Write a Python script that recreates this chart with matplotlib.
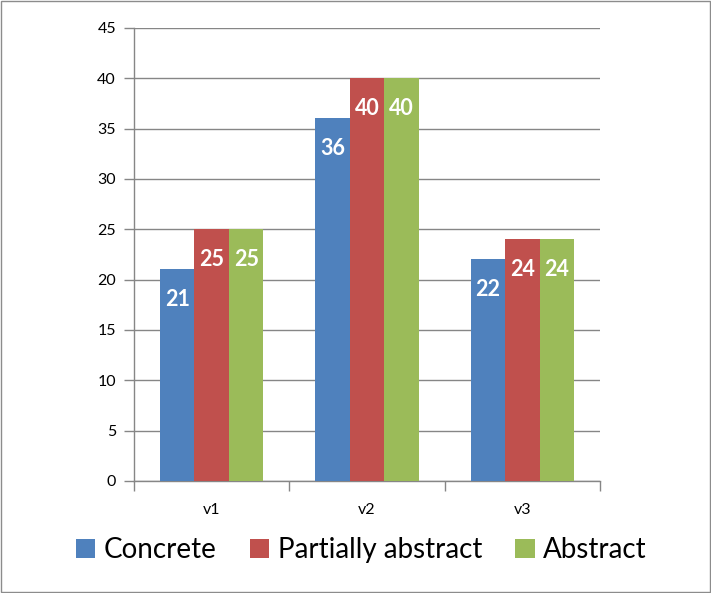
import matplotlib
matplotlib.use("Agg")
import matplotlib.pyplot as plt
import numpy as np

categories = ['v1', 'v2', 'v3']
series_names = ['Concrete', 'Partially abstract', 'Abstract']
concrete = [21, 36, 22]
partially_abstract = [25, 40, 24]
abstract = [25, 40, 24]
colors = ['#4F81BD', '#C0504D', '#9BBB59']

plt.rcParams['font.family'] = ['Lato', 'DejaVu Sans']

fig = plt.figure(figsize=(7.11, 5.93), dpi=100)
ax = fig.add_axes([0.1885, 0.189, 0.6555, 0.764])

grid_c = '#868686'
x = np.arange(len(categories))
w = 0.222
all_series = [concrete, partially_abstract, abstract]
for i, (vals, name, c) in enumerate(zip(all_series, series_names, colors)):
    pos = x + (i - 1) * w
    bars = ax.bar(pos, vals, width=w, color=c, label=name, zorder=3)
    for b, v in zip(bars, vals):
        ax.annotate(str(v), (b.get_x() + b.get_width() / 2, v),
                    xytext=(0, -30), textcoords='offset pixels',
                    ha='center', va='center', color='white',
                    fontsize=15.5, fontweight='bold', zorder=4)

ax.set_xlim(-0.5, 2.5)
ax.set_ylim(0, 45)
ax.set_yticks(range(0, 46, 5))
ax.yaxis.grid(True, color=grid_c, linewidth=1, zorder=0)
ax.set_axisbelow(True)
for s in ['top', 'right']:
    ax.spines[s].set_visible(False)
for s in ['left', 'bottom']:
    ax.spines[s].set_color(grid_c)
    ax.spines[s].set_linewidth(1)

# category labels centered, tick marks between categories
ax.set_xticks(x)
ax.set_xticklabels(categories)
ax.tick_params(axis='x', length=0, labelsize=11.5, pad=16)
ax.set_xticks([-0.5, 0.5, 1.5, 2.5], minor=True)
ax.tick_params(axis='x', which='minor', length=7, color=grid_c, width=1)
ax.tick_params(axis='y', length=7, color=grid_c, width=1, labelsize=11.5, pad=6)

fig.legend(loc='center', bbox_to_anchor=(0.508, 0.072), ncol=3, frameon=False,
           fontsize=20, handlelength=0.7, handleheight=0.7,
           handletextpad=0.3, columnspacing=1.2)

# outer border
fig.patches.append(plt.Rectangle((0.001, 0.001), 0.997, 0.997, transform=fig.transFigure,
                                 fill=False, edgecolor='#8C8C8C', linewidth=1))

fig.savefig('out.png', dpi=100)
